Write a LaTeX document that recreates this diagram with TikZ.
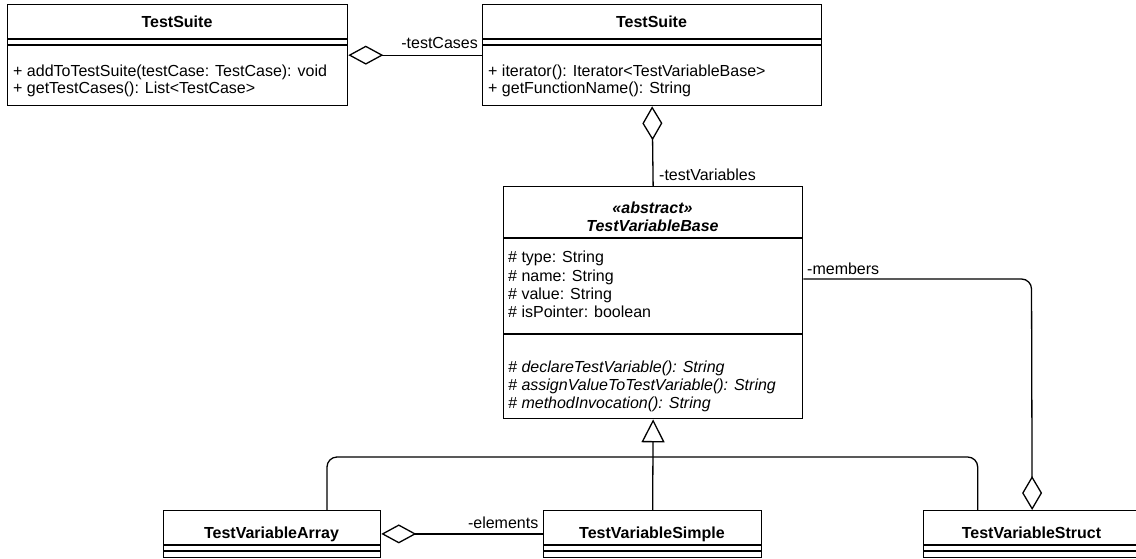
\documentclass[tikz,border=0pt]{standalone}
\usepackage{fontspec}
\setmainfont{Liberation Sans}
\usetikzlibrary{arrows.meta,calc}
\begin{document}
\begin{tikzpicture}[x=1pt,y=-1pt,
  every node/.style={font=\fontsize{16pt}{18.3pt}\selectfont},
  classbox/.style={draw, line width=1.3pt, rectangle, inner sep=0pt, anchor=north west},
  rule/.style={line width=1.3pt},
  conn/.style={line width=1.3pt},
  aggrH/.style={conn, -{Diamond[fill=white, length=35pt, width=19pt]}},
  aggrV/.style={conn, -{Diamond[fill=white, length=34pt, width=20pt]}},
  gen/.style={conn, -{Triangle[fill=white, length=23pt, width=23pt]}},
  title/.style={font=\fontsize{16pt}{18.3pt}\selectfont\bfseries, anchor=base, inner sep=0pt},
  ititle/.style={font=\fontsize{16pt}{18.3pt}\selectfont\bfseries\itshape, anchor=base, inner sep=0pt},
  entry/.style={anchor=base west, inner sep=0pt},
  ientry/.style={anchor=base west, inner sep=0pt, font=\fontsize{16pt}{18.3pt}\selectfont\itshape},
  role/.style={inner sep=0pt},
]
\useasboundingbox (0,0) rectangle (1136,558);

% ---------- class boxes ----------
\node[classbox, minimum width=340pt, minimum height=101pt] (suiteL) at (7,4) {};
\node[classbox, minimum width=339pt, minimum height=101pt] (suiteR) at (482,4) {};
\node[classbox, minimum width=299pt, minimum height=232pt] (base) at (503,186) {};
\node[classbox, minimum width=217pt, minimum height=46.5pt] (array) at (163,510) {};
\node[classbox, minimum width=218pt, minimum height=46.5pt] (simple) at (543,510) {};
\node[classbox, minimum width=217pt, minimum height=46.5pt] (struct) at (923,510) {};

% compartment rules
\foreach \b in {suiteL,suiteR}{
  \draw[rule] ($(\b.north west)+(0,35)$) -- ($(\b.north east)+(0,35)$);
  \draw[rule] ($(\b.north west)+(0,41)$) -- ($(\b.north east)+(0,41)$);
}
\foreach \b in {array,simple,struct}{
  \draw[rule] ($(\b.north west)+(0,35)$) -- ($(\b.north east)+(0,35)$);
  \draw[rule] ($(\b.north west)+(0,41)$) -- ($(\b.north east)+(0,41)$);
}
\draw[rule] ($(base.north west)+(0,52)$) -- ($(base.north east)+(0,52)$);
\draw[rule] ($(base.north west)+(0,148)$) -- ($(base.north east)+(0,148)$);

% ---------- texts ----------
\node[title] (tL) at (177,27) {TestSuite};
\node[entry] (mL1) at (13,76) {+ addToTestSuite(testCase: TestCase): void};
\node[entry] (mL2) at (13,93) {+ getTestCases(): List<TestCase>};

\node[title] (tR) at (651.5,27) {TestSuite};
\node[entry] (mR1) at (488,76) {+ iterator(): Iterator<TestVariableBase>};
\node[entry] (mR2) at (488,93) {+ getFunctionName(): String};

\node[ititle] (stereo) at (652.5,213) {«abstract»};
\node[ititle] (tB) at (652.5,231) {TestVariableBase};
\node[entry] (a1) at (508,262) {\# type: String};
\node[entry] (a2) at (508,281) {\# name: String};
\node[entry] (a3) at (508,299) {\# value: String};
\node[entry] (a4) at (508,317) {\# isPointer: boolean};
\node[ientry] (o1) at (508,372) {\# declareTestVariable(): String};
\node[ientry] (o2) at (508,390) {\# assignValueToTestVariable(): String};
\node[ientry] (o3) at (508,408) {\# methodInvocation(): String};

\node[title] (tA) at (271.5,538) {TestVariableArray};
\node[title] (tS) at (652,538) {TestVariableSimple};
\node[title] (tT) at (1031.5,538) {TestVariableStruct};

% ---------- connectors ----------
\draw[aggrH] (suiteR.west) -- (suiteL.east);
\node[role, anchor=base east] (lCases) at (478,48) {-testCases};

\draw[aggrV] (base.north) -- (suiteR.south);
\node[role, anchor=base west] (lVars) at (659,180) {-testVariables};

\draw[gen] (simple.north) -- (base.south);
\coordinate (armL) at (327,457);
\coordinate (armR) at (977.7,457);
\draw[conn, rounded corners=10pt] (array.north -| armL) -- (armL) -- (armR) -- (struct.north -| armR);

\coordinate (memTurn) at (1031.5,279);
\draw[aggrV, rounded corners=10pt] (base.east |- memTurn) -- (memTurn) -- (struct.north);
\node[role, anchor=base west] (lMembers) at (807,274) {-members};

\draw[aggrH] (simple.west) -- (array.east);
\node[role, anchor=base east] (lElems) at (538.5,528) {-elements};
\end{tikzpicture}
\end{document}
